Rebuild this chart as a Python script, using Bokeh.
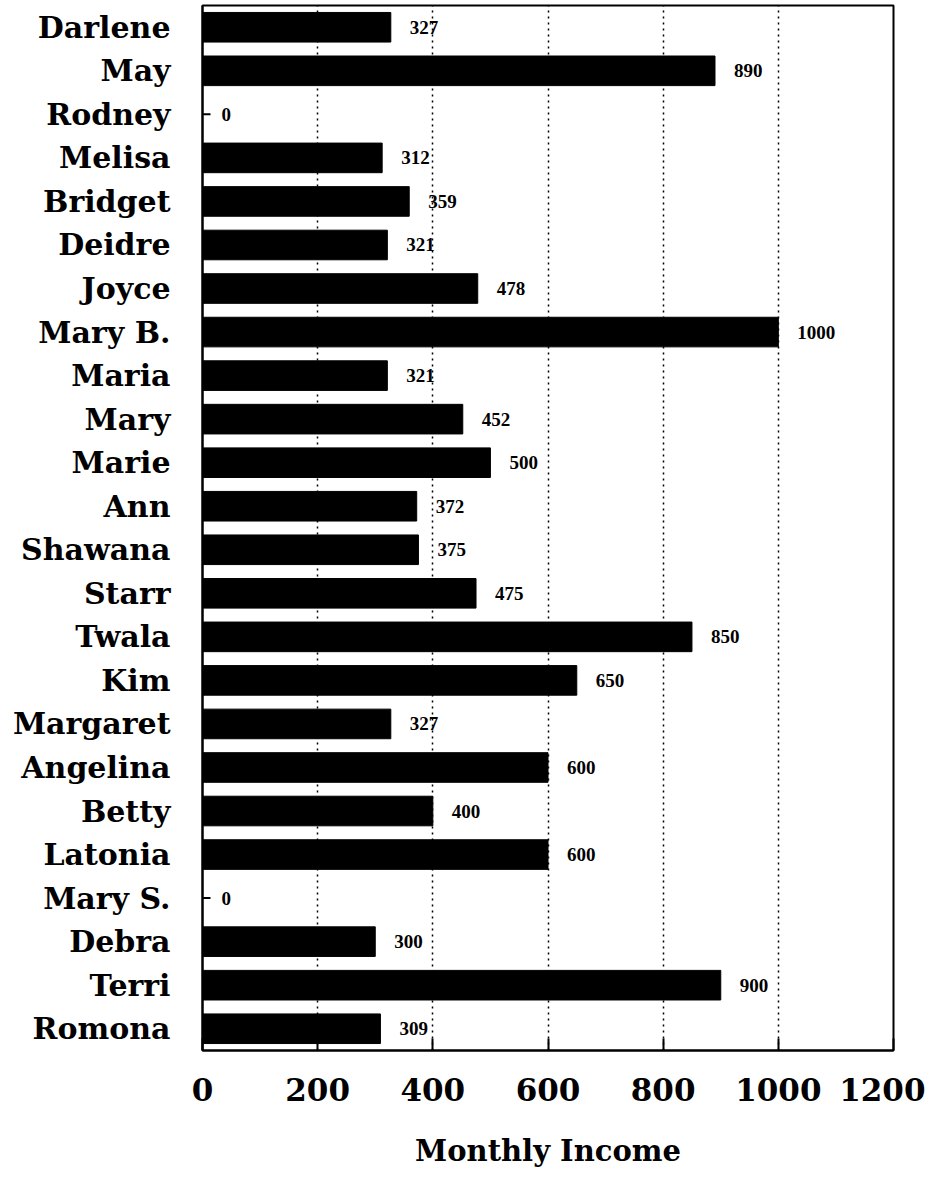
from bokeh.plotting import figure
from bokeh.models import (ColumnDataSource, Range1d, FactorRange, FixedTicker,
                          LabelSet, CDSView, BooleanFilter)
from bokeh.embed import file_html
from bokeh.resources import INLINE

names = ["Darlene", "May", "Rodney", "Melisa", "Bridget", "Deidre", "Joyce",
         "Mary B.", "Maria", "Mary", "Marie", "Ann", "Shawana", "Starr", "Twala",
         "Kim", "Margaret", "Angelina", "Betty", "Latonia", "Mary S.", "Debra",
         "Terri", "Romona"]
income = [327, 890, 0, 312, 359, 321, 478, 1000, 321, 452, 500, 372, 375, 475,
          850, 650, 327, 600, 400, 600, 0, 300, 900, 309]
x_ticks = [0, 200, 400, 600, 800, 1000, 1200]

FONT = "DejaVu Serif"

src = ColumnDataSource(dict(name=names, income=income,
                            lab=[str(v) for v in income]))

p = figure(width=925, height=1176, output_backend="svg", toolbar_location=None,
           y_range=FactorRange(factors=list(reversed(names)), range_padding=0),
           x_range=Range1d(0, 1200),
           min_border_left=202, min_border_right=32, min_border_top=5,
           min_border_bottom=126)

p.hbar(y="name", right="income", left=0, height=0.68, source=src,
       fill_color="black", line_color="black")
# small stub shown for zero-valued entries
zero_view = CDSView(filter=BooleanFilter([v == 0 for v in income]))
p.ray(x="income", y="name", length=8, length_units="screen", angle=0,
      source=src, view=zero_view, line_color="black", line_width=2)

labels = LabelSet(x="income", y="name", text="lab", source=src, x_offset=19,
                  text_font=FONT, text_font_style="bold", text_font_size="19px",
                  text_baseline="middle", text_color="black")
p.add_layout(labels)

p.outline_line_color = "black"
p.outline_line_width = 2

p.ygrid.grid_line_color = None
p.xgrid.grid_line_color = "black"
p.xgrid.grid_line_dash = "dotted"
p.xgrid.grid_line_width = 1.5
p.xgrid.ticker = FixedTicker(ticks=x_ticks)

p.xaxis.ticker = FixedTicker(ticks=x_ticks)
p.xaxis.axis_label = "Monthly Income"
p.xaxis.axis_label_text_font = FONT
p.xaxis.axis_label_text_font_style = "bold"
p.xaxis.axis_label_text_font_size = "29px"
p.xaxis.axis_label_text_color = "black"
p.xaxis.axis_label_standoff = 30
p.xaxis.major_label_text_font = FONT
p.xaxis.major_label_text_font_style = "bold"
p.xaxis.major_label_text_font_size = "31px"
p.xaxis.major_label_text_color = "black"
p.xaxis.major_label_standoff = 27
p.xaxis.major_tick_in = 12
p.xaxis.major_tick_out = 0
p.xaxis.minor_tick_line_color = None
p.xaxis.axis_line_width = 2
p.xaxis.axis_line_color = "black"
p.xaxis.major_tick_line_width = 2
p.xaxis.major_tick_line_color = "black"

p.yaxis.major_label_text_font = FONT
p.yaxis.major_label_text_font_style = "bold"
p.yaxis.major_label_text_font_size = "30px"
p.yaxis.major_label_text_color = "black"
p.yaxis.major_tick_line_color = None
p.yaxis.minor_tick_line_color = None
p.yaxis.major_label_standoff = 26
p.yaxis.axis_line_width = 2
p.yaxis.axis_line_color = "black"

open("out.html", "w").write(file_html(p, INLINE))
